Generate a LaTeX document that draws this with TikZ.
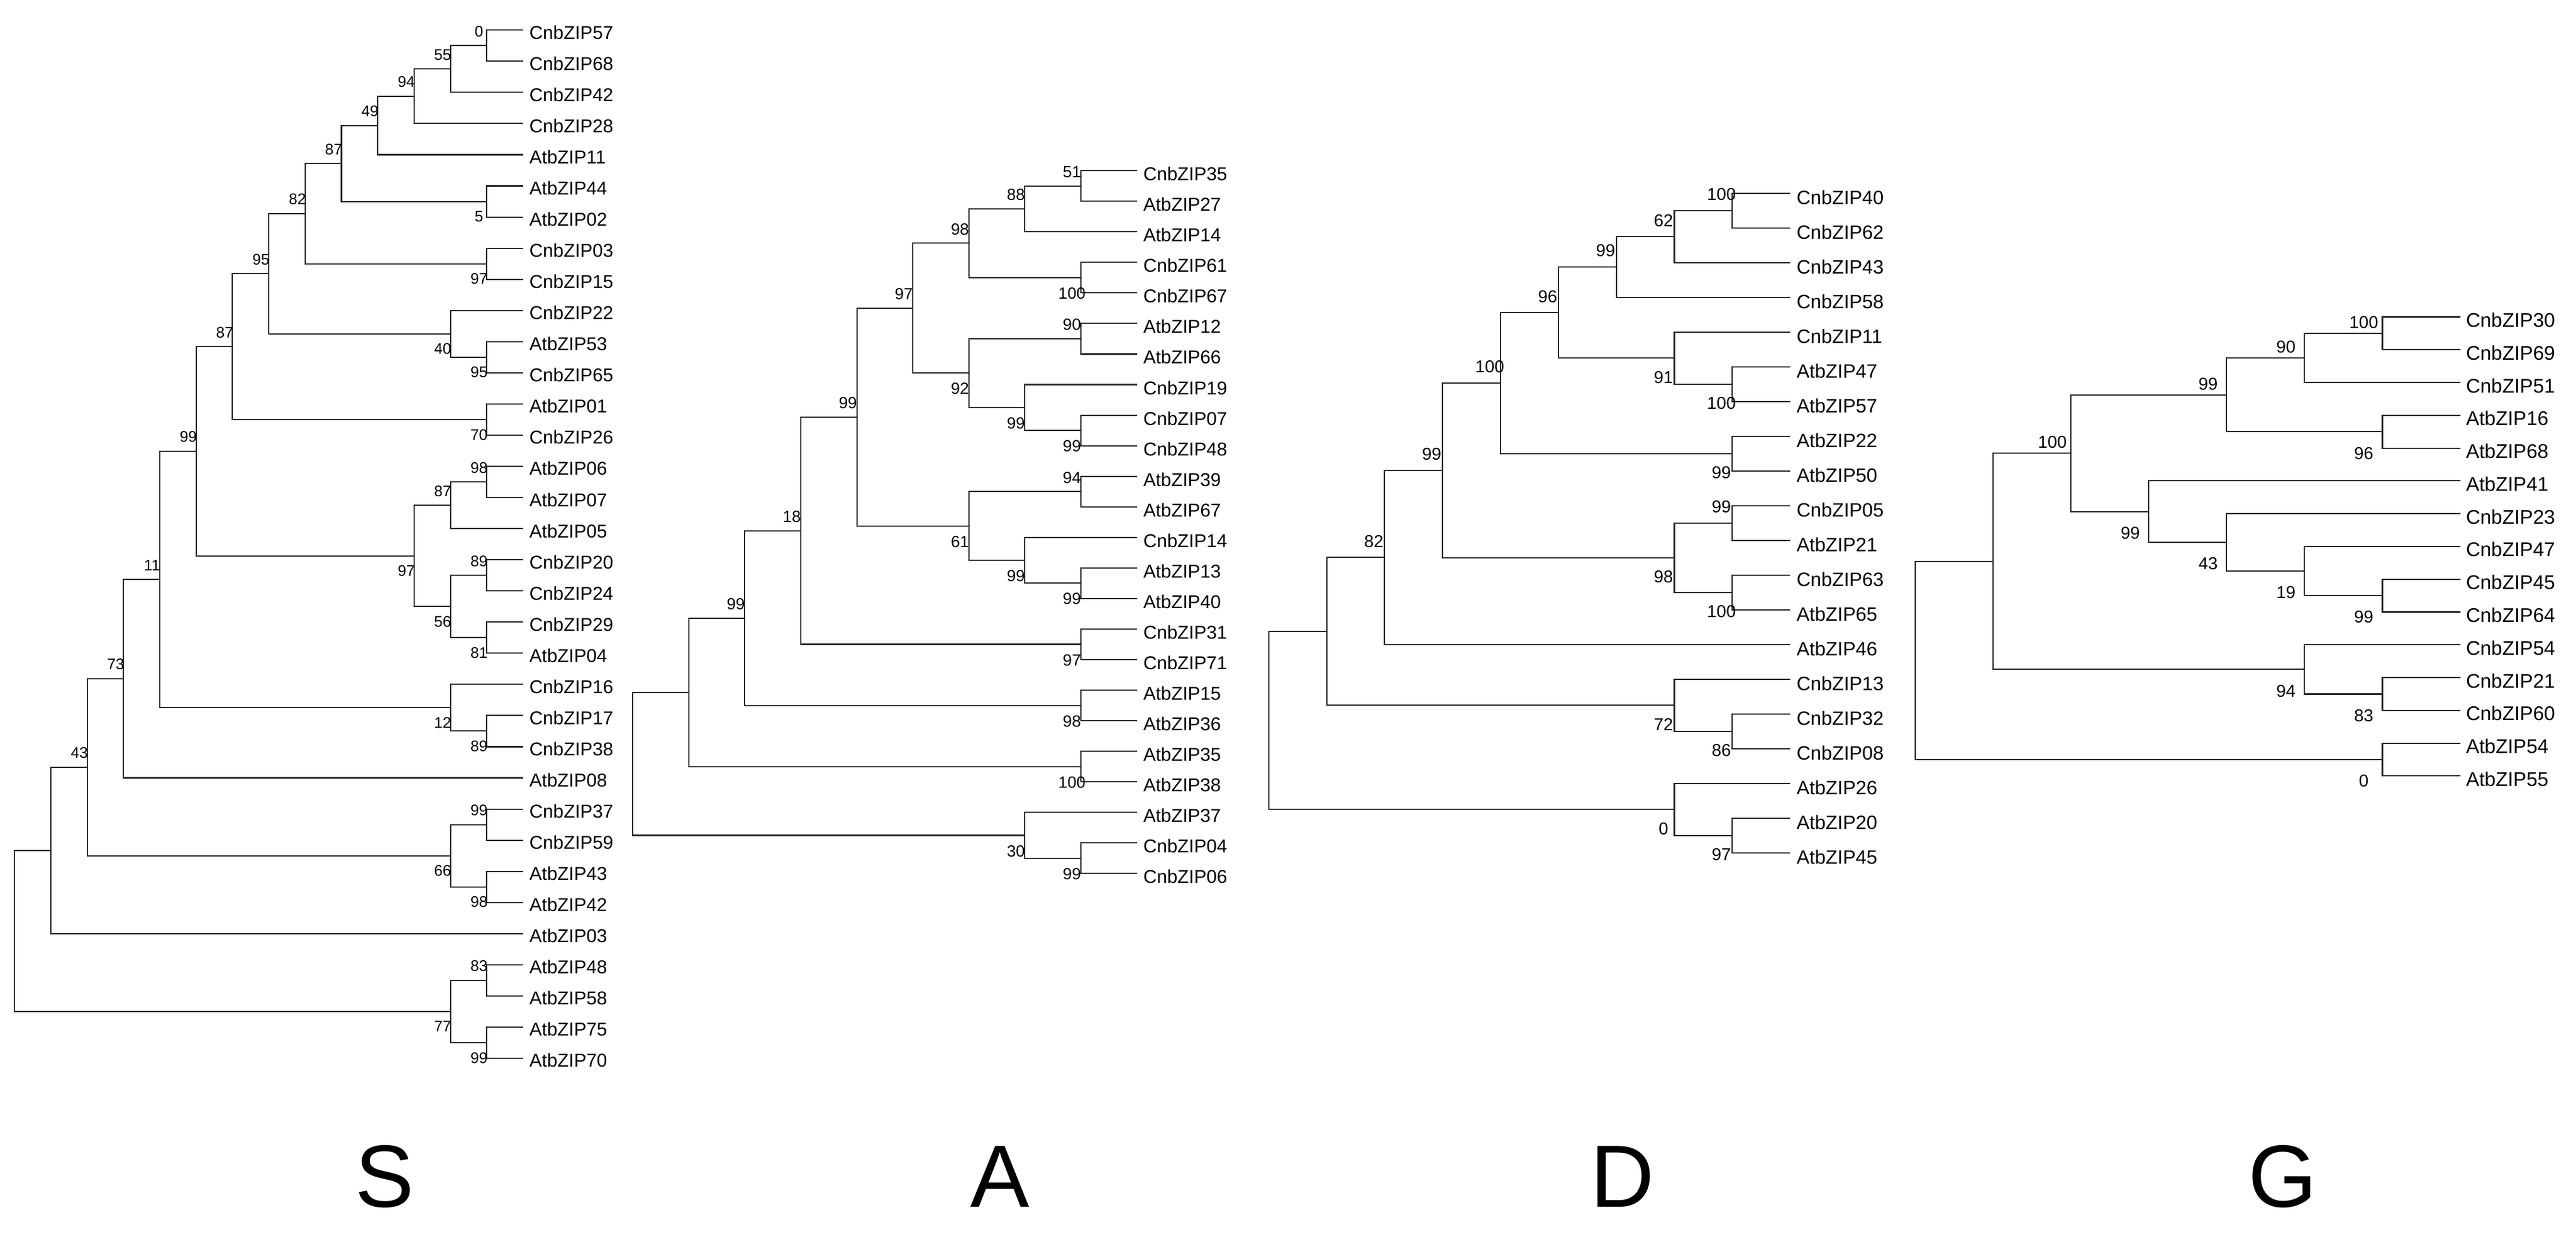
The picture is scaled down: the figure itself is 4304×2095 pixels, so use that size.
\documentclass[tikz,border=0pt]{standalone}
\usepackage{fontspec}
\setmainfont{Liberation Sans}
\usetikzlibrary{calc}

% tip x, step per level, first leaf y, leaf spacing (in pixels of the figure)
\def\tipS{874}\def\stepS{60.7}\def\yoS{50.3}\def\dyS{52.05}
\def\tipA{1899.6}\def\stepA{93.6}\def\yoA{285.2}\def\dyA{51.05}
\def\tipD{2991}\def\stepD{96.8}\def\yoD{322.7}\def\dyD{58.0}
\def\tipG{4110.5}\def\stepG{130.07}\def\yoG{529.5}\def\dyG{54.78}

\tikzset{
  branch/.style={line width=0.6pt, black!85},
  leafS/.style={font=\fontsize{8.85}{10}\selectfont, inner sep=0pt, anchor=base west, xshift=1.0mm, yshift=-1.5mm},
  leafA/.style={font=\fontsize{8.85}{10}\selectfont, inner sep=0pt, anchor=base west, xshift=1.0mm, yshift=-1.65mm},
  leafD/.style={font=\fontsize{9.2}{10}\selectfont, inner sep=0pt, anchor=base west, xshift=1.0mm, yshift=-1.85mm},
  leafG/.style={font=\fontsize{9.4}{10}\selectfont, inner sep=0pt, anchor=base west, xshift=0.9mm, yshift=-1.7mm},
  bsupS/.style={font=\fontsize{7.3}{8}\selectfont, inner sep=0pt, anchor=base, xshift=-1.3mm, yshift=1.5mm},
  bsdnS/.style={font=\fontsize{7.3}{8}\selectfont, inner sep=0pt, anchor=north, xshift=-1.3mm, yshift=-1.55mm},
  bsupA/.style={font=\fontsize{7.7}{8}\selectfont, inner sep=0pt, anchor=base, xshift=-1.5mm, yshift=1.4mm},
  bsdnA/.style={font=\fontsize{7.7}{8}\selectfont, inner sep=0pt, anchor=north, xshift=-1.5mm, yshift=-1.6mm},
  bsupD/.style={font=\fontsize{8.2}{9}\selectfont, inner sep=0pt, anchor=base, xshift=-1.8mm, yshift=1.7mm},
  bsdnD/.style={font=\fontsize{8.2}{9}\selectfont, inner sep=0pt, anchor=north, xshift=-1.8mm, yshift=-2.1mm},
  bsupG/.style={font=\fontsize{8.2}{9}\selectfont, inner sep=0pt, anchor=base, xshift=-3.1mm, yshift=0.85mm},
  bsdnG/.style={font=\fontsize{8.2}{9}\selectfont, inner sep=0pt, anchor=north, xshift=-3.1mm, yshift=-2.5mm},
  group/.style={font=\fontsize{42}{48}\selectfont, inner sep=0pt, anchor=base}
}

% leaves of one tree: tree letter, names
\newcommand\leafrow[2]{%
  \foreach \nm [count=\i from 0] in {#2} {
    \coordinate (#1\i) at ({\csname tip#1\endcsname}, {\csname yo#1\endcsname+\csname dy#1\endcsname*\i});
    \node[leaf#1] (#1l\i) at (#1\i) {\nm};
  }%
}
% clade: tree, name, level, upper child, lower child, support, up/dn
\newcommand\clade[7]{%
  \pgfmathsetmacro\cladex{\csname tip#1\endcsname-\csname step#1\endcsname*#3}%
  \coordinate (cx) at (\cladex,0);
  \coordinate (cy) at ($(#4)!0.5!(#5)$);
  \coordinate (#2) at (cx |- cy);
  \draw[branch] (#4) -| (#2) |- (#5);
  \ifx\relax#6\relax\else\node[bs#7#1] at (#2) {#6};\fi
}

\begin{document}
\begin{tikzpicture}[x=0.1mm, y=-0.1mm]
\useasboundingbox (0,0) rectangle (4304,2095);

% S
\leafrow{S}{CnbZIP57,CnbZIP68,CnbZIP42,CnbZIP28,AtbZIP11,AtbZIP44,AtbZIP02,CnbZIP03,CnbZIP15,CnbZIP22,AtbZIP53,CnbZIP65,AtbZIP01,CnbZIP26,AtbZIP06,AtbZIP07,AtbZIP05,CnbZIP20,CnbZIP24,CnbZIP29,AtbZIP04,CnbZIP16,CnbZIP17,CnbZIP38,AtbZIP08,CnbZIP37,CnbZIP59,AtbZIP43,AtbZIP42,AtbZIP03,AtbZIP48,AtbZIP58,AtbZIP75,AtbZIP70}
\clade{S}{sa}{1}{S0}{S1}{0}{up}
\clade{S}{sb}{2}{sa}{S2}{55}{up}
\clade{S}{sc}{3}{sb}{S3}{94}{up}
\clade{S}{sd}{4}{sc}{S4}{49}{up}
\clade{S}{se}{1}{S5}{S6}{5}{dn}
\clade{S}{sf}{5}{sd}{se}{87}{up}
\clade{S}{sg}{1}{S7}{S8}{97}{dn}
\clade{S}{sh}{6}{sf}{sg}{82}{up}
\clade{S}{si}{1}{S10}{S11}{95}{dn}
\clade{S}{sj}{2}{S9}{si}{40}{dn}
\clade{S}{sk}{7}{sh}{sj}{95}{up}
\clade{S}{sl}{1}{S12}{S13}{70}{dn}
\clade{S}{sm}{8}{sk}{sl}{87}{up}
\clade{S}{sn}{1}{S14}{S15}{98}{up}
\clade{S}{so}{2}{sn}{S16}{87}{up}
\clade{S}{sp}{1}{S17}{S18}{89}{up}
\clade{S}{sq}{1}{S19}{S20}{81}{dn}
\clade{S}{sr}{2}{sp}{sq}{56}{dn}
\clade{S}{ss}{3}{so}{sr}{97}{dn}
\clade{S}{st}{9}{sm}{ss}{99}{up}
\clade{S}{su}{1}{S22}{S23}{89}{dn}
\clade{S}{sv}{2}{S21}{su}{12}{dn}
\clade{S}{sw}{10}{st}{sv}{11}{up}
\clade{S}{sx}{11}{sw}{S24}{73}{up}
\clade{S}{sy}{1}{S25}{S26}{99}{up}
\clade{S}{sz}{1}{S27}{S28}{98}{dn}
\clade{S}{sA}{2}{sy}{sz}{66}{dn}
\clade{S}{sB}{12}{sx}{sA}{43}{up}
\clade{S}{sC}{13}{sB}{S29}{}{up}
\clade{S}{sD}{1}{S30}{S31}{83}{up}
\clade{S}{sE}{1}{S32}{S33}{99}{dn}
\clade{S}{sF}{2}{sD}{sE}{77}{dn}
\clade{S}{sG}{14}{sC}{sF}{}{up}

% A
\leafrow{A}{CnbZIP35,AtbZIP27,AtbZIP14,CnbZIP61,CnbZIP67,AtbZIP12,AtbZIP66,CnbZIP19,CnbZIP07,CnbZIP48,AtbZIP39,AtbZIP67,CnbZIP14,AtbZIP13,AtbZIP40,CnbZIP31,CnbZIP71,AtbZIP15,AtbZIP36,AtbZIP35,AtbZIP38,AtbZIP37,CnbZIP04,CnbZIP06}
\clade{A}{aa}{1}{A0}{A1}{51}{up}
\clade{A}{ab}{2}{aa}{A2}{88}{up}
\clade{A}{ac}{1}{A3}{A4}{100}{dn}
\clade{A}{ad}{3}{ab}{ac}{98}{up}
\clade{A}{ae}{1}{A5}{A6}{90}{up}
\clade{A}{af}{1}{A8}{A9}{99}{dn}
\clade{A}{ag}{2}{A7}{af}{99}{dn}
\clade{A}{ah}{3}{ae}{ag}{92}{dn}
\clade{A}{ai}{4}{ad}{ah}{97}{up}
\clade{A}{aj}{1}{A10}{A11}{94}{up}
\clade{A}{ak}{1}{A13}{A14}{99}{dn}
\clade{A}{al}{2}{A12}{ak}{99}{dn}
\clade{A}{am}{3}{aj}{al}{61}{dn}
\clade{A}{an}{5}{ai}{am}{99}{up}
\clade{A}{ao}{1}{A15}{A16}{97}{dn}
\clade{A}{ap}{6}{an}{ao}{18}{up}
\clade{A}{aq}{1}{A17}{A18}{98}{dn}
\clade{A}{ar}{7}{ap}{aq}{99}{up}
\clade{A}{as}{1}{A19}{A20}{100}{dn}
\clade{A}{at}{8}{ar}{as}{}{up}
\clade{A}{au}{1}{A22}{A23}{99}{dn}
\clade{A}{av}{2}{A21}{au}{30}{dn}
\clade{A}{aw}{9}{at}{av}{}{up}

% D
\leafrow{D}{CnbZIP40,CnbZIP62,CnbZIP43,CnbZIP58,CnbZIP11,AtbZIP47,AtbZIP57,AtbZIP22,AtbZIP50,CnbZIP05,AtbZIP21,CnbZIP63,AtbZIP65,AtbZIP46,CnbZIP13,CnbZIP32,CnbZIP08,AtbZIP26,AtbZIP20,AtbZIP45}
\clade{D}{da}{1}{D0}{D1}{100}{up}
\clade{D}{db}{2}{da}{D2}{62}{up}
\clade{D}{dc}{3}{db}{D3}{99}{up}
\clade{D}{dd}{1}{D5}{D6}{100}{dn}
\clade{D}{de}{2}{D4}{dd}{91}{dn}
\clade{D}{df}{4}{dc}{de}{96}{up}
\clade{D}{dg}{1}{D7}{D8}{99}{dn}
\clade{D}{dh}{5}{df}{dg}{100}{up}
\clade{D}{di}{1}{D9}{D10}{99}{up}
\clade{D}{dj}{1}{D11}{D12}{100}{dn}
\clade{D}{dk}{2}{di}{dj}{98}{dn}
\clade{D}{dl}{6}{dh}{dk}{99}{up}
\clade{D}{dm}{7}{dl}{D13}{82}{up}
\clade{D}{dn}{1}{D15}{D16}{86}{dn}
\clade{D}{dq}{2}{D14}{dn}{72}{dn}
\clade{D}{dr}{8}{dm}{dq}{}{up}
\clade{D}{ds}{1}{D18}{D19}{97}{dn}
\clade{D}{dt}{2}{D17}{ds}{0}{dn}
\clade{D}{du}{9}{dr}{dt}{}{up}

% G
\leafrow{G}{CnbZIP30,CnbZIP69,CnbZIP51,AtbZIP16,AtbZIP68,AtbZIP41,CnbZIP23,CnbZIP47,CnbZIP45,CnbZIP64,CnbZIP54,CnbZIP21,CnbZIP60,AtbZIP54,AtbZIP55}
\clade{G}{ga}{1}{G0}{G1}{100}{up}
\clade{G}{gb}{2}{ga}{G2}{90}{up}
\clade{G}{gc}{1}{G3}{G4}{96}{dn}
\clade{G}{gd}{3}{gb}{gc}{99}{up}
\clade{G}{ge}{1}{G8}{G9}{99}{dn}
\clade{G}{gf}{2}{G7}{ge}{19}{dn}
\clade{G}{gg}{3}{G6}{gf}{43}{dn}
\clade{G}{gh}{4}{G5}{gg}{99}{dn}
\clade{G}{gi}{5}{gd}{gh}{100}{up}
\clade{G}{gj}{1}{G11}{G12}{83}{dn}
\clade{G}{gk}{2}{G10}{gj}{94}{dn}
\clade{G}{gl}{6}{gi}{gk}{}{up}
\clade{G}{gm}{1}{G13}{G14}{0}{dn}
\clade{G}{gn}{7}{gl}{gm}{}{up}

% group letters
\node[group] (grpS) at (643,2016) {S};
\node[group] (grpA) at (1671,2016) {A};
\node[group] (grpD) at (2711,2016) {D};
\node[group] (grpG) at (3814,2016) {G};
\end{tikzpicture}
\end{document}
